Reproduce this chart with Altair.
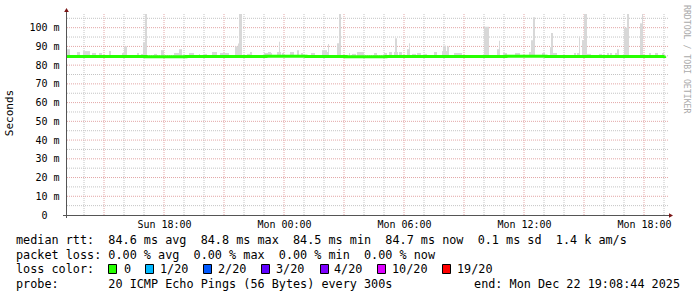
import altair as alt
import pandas as pd

# ---------------- data (minutes after Sun 2025-12-21 13:06 UTC, values in ms) ----------------
smoke_from = [3, 33, 51, 78, 99, 129, 168, 174, 213, 225, 231, 237, 264, 285, 324, 339,
              369, 399, 414, 438, 462, 507, 516, 519, 543, 552, 594, 606, 633, 639, 648, 672,
              693, 705, 735, 768, 774, 786, 813, 819, 849, 858, 873, 924, 954, 969, 984, 987,
              999, 1023, 1029, 1038, 1053, 1074, 1104, 1128, 1131, 1143, 1164, 1254, 1293, 1299,
              1311, 1347, 1389, 1395, 1401, 1428, 1452, 1455, 1461, 1524, 1533, 1539, 1548, 1554,
              1563, 1599, 1623, 1632, 1647, 1653, 1674, 1683, 1722, 1728, 1749, 1767, 1788]
smoke_to = [12, 42, 72, 90, 108, 135, 174, 183, 219, 231, 237, 243, 273, 294, 348, 348,
            384, 402, 423, 453, 489, 516, 519, 528, 552, 558, 618, 615, 645, 642, 654, 684,
            699, 711, 747, 783, 786, 789, 819, 825, 852, 870, 894, 933, 963, 978, 996, 993,
            1008, 1032, 1032, 1050, 1065, 1083, 1113, 1149, 1140, 1149, 1188, 1269, 1302, 1302,
            1323, 1362, 1398, 1404, 1407, 1437, 1461, 1461, 1473, 1530, 1539, 1542, 1557, 1563,
            1575, 1608, 1629, 1638, 1659, 1659, 1689, 1689, 1731, 1731, 1755, 1776, 1794]
smoke_top = [88.5, 87.0, 87.5, 86.5, 86.5, 87.5, 86.5, 90.0, 86.5, 86.0, 92.0, 108.0, 86.0, 88.0, 86.5, 88.5,
             86.5, 86.0, 86.0, 87.0, 86.5, 90.0, 91.5, 108.0, 86.0, 87.0, 86.5, 87.0, 87.0, 92.5, 86.5, 87.0,
             88.0, 86.5, 86.5, 88.0, 87.0, 91.3, 91.7, 108.0, 86.5, 86.0, 87.0, 86.5, 86.5, 87.0, 87.0, 94.3,
             87.0, 88.5, 91.7, 86.0, 86.5, 86.0, 87.0, 87.5, 90.4, 90.0, 86.5, 100.5, 88.5, 93.0,
             86.5, 86.5, 87.0, 93.3, 105.6, 86.5, 89.6, 97.2, 86.5, 86.5, 86.5, 95.2, 93.4, 108.0,
             86.0, 86.0, 86.5, 86.5, 86.5, 88.5, 100.0, 108.0, 102.3, 108.0, 86.5, 86.5, 86.5]
smoke_floor = 84.3

median_t = [0, 120, 240, 360, 480, 600, 720, 840, 960, 1080, 1200, 1320, 1440, 1560, 1680, 1796]
median_ms = [84.6, 84.6, 84.5, 84.6, 84.6, 84.7, 84.6, 84.5, 84.6, 84.6, 84.6, 84.7, 84.6, 84.6, 84.6, 84.7]

x_label_minutes = [294, 654, 1014, 1374, 1734]
minor_v_minutes = [54, 174, 234, 354, 414, 534, 594, 714, 774, 894, 954, 1074, 1134, 1254,
                   1314, 1434, 1494, 1614, 1674, 1794]
major_v_minutes = [114, 294, 474, 654, 834, 1014, 1194, 1374, 1554, 1734]
y_ticks = [0, 10, 20, 30, 40, 50, 60, 70, 80, 90, 100]
minor_h = [5, 15, 25, 35, 45, 55, 65, 75, 85, 95, 105]
major_h = [10, 20, 30, 40, 50, 60, 70, 80, 90, 100]

legend_lines = [
    "median rtt:  84.6 ms avg  84.8 ms max  84.5 ms min  84.7 ms now  0.1 ms sd  1.4 k am/s",
    "packet loss: 0.00 % avg  0.00 % max  0.00 % min  0.00 % now",
    "loss color:",
    "probe:       20 ICMP Echo Pings (56 Bytes) every 300s",
]
end_text = "end: Mon Dec 22 19:08:44 2025"
loss_labels = ["0", "1/20", "2/20", "3/20", "4/20", "10/20", "19/20"]
loss_colors = ["#26ff00", "#00b8ff", "#0059ff", "#5e00ff", "#7e00ff", "#dd00ff", "#ff0000"]

T0_MS = 1766322360000
XMAX = 1806
YMAX = 107.3
W, H = 602, 201
MONO = "DejaVu Sans Mono"

xs = alt.Scale(domain=[0, XMAX], nice=False, zero=False)
ys = alt.Scale(domain=[0, YMAX], nice=False, zero=False)

smoke = pd.DataFrame({"a": smoke_from, "b": smoke_to, "top": smoke_top,
                      "lo": [smoke_floor] * len(smoke_from)})
med = pd.DataFrame({"t": median_t, "v": median_ms})

x_axis = alt.Axis(values=x_label_minutes,
                  labelExpr=f"utcFormat(datum.value*60000 + {T0_MS}, '%a %H:%M')",
                  domain=False, ticks=False, grid=False, title=None,
                  labelFont=MONO, labelFontSize=10, labelColor="#000000", labelPadding=4,
                  labelFlush=False, labelOverlap=False)
y_axis = alt.Axis(values=y_ticks,
                  labelExpr="datum.value == 0 ? '0' : datum.value + ' m'",
                  domain=False, ticks=False, grid=False, title=None,
                  labelFont=MONO, labelFontSize=10, labelColor="#000000",
                  labelPadding={"condition": {"test": "datum.value == 0", "value": 19}, "value": 7},
                  labelFlush=False, labelOverlap=False)

minor_v = alt.Chart(pd.DataFrame({"t": minor_v_minutes})).mark_rule(
    color="#c4c4c4", strokeDash=[1, 1], strokeWidth=1).encode(
    x=alt.X("t:Q", scale=xs, axis=x_axis))
major_v = alt.Chart(pd.DataFrame({"t": major_v_minutes})).mark_rule(
    color="#e3a6a6", strokeDash=[1, 1], strokeWidth=1).encode(
    x=alt.X("t:Q", scale=xs, axis=x_axis))
minor_hl = alt.Chart(pd.DataFrame({"v": minor_h})).mark_rule(
    color="#c4c4c4", strokeDash=[1, 1], strokeWidth=1).encode(
    y=alt.Y("v:Q", scale=ys, axis=y_axis))
major_hl = alt.Chart(pd.DataFrame({"v": major_h})).mark_rule(
    color="#e3a6a6", strokeDash=[1, 1], strokeWidth=1).encode(
    y=alt.Y("v:Q", scale=ys, axis=y_axis))

smoke_layer = alt.Chart(smoke).mark_rect(color="#d8d8d8", clip=True).encode(
    x=alt.X("a:Q", scale=xs, axis=x_axis), x2="b:Q",
    y=alt.Y("lo:Q", scale=ys, axis=y_axis), y2="top:Q")

median_layer = alt.Chart(med).mark_line(color="#26ff00", strokeWidth=3,
                                        interpolate="step-after").encode(
    x=alt.X("t:Q", scale=xs, axis=x_axis), y=alt.Y("v:Q", scale=ys, axis=y_axis))

one = pd.DataFrame({"k": [0]})
NBSP = "\u00a0"

def txt(s, x, y, size=11.8, align="left", angle=0, color="#000000", baseline="middle"):
    kw = dict(font=MONO, fontSize=size, align=align, baseline=baseline, color=color)
    if angle:
        kw["angle"] = angle
    return alt.Chart(one).mark_text(**kw).encode(
        x=alt.value(x), y=alt.value(y), text=alt.value(s.replace(" ", NBSP)))

axis_color = "#555555"
axes = [
    alt.Chart(one).mark_rule(color=axis_color, strokeWidth=1).encode(
        x=alt.value(-3), x2=alt.value(604), y=alt.value(201.5)),
    alt.Chart(one).mark_rule(color=axis_color, strokeWidth=1).encode(
        x=alt.value(0.5), y=alt.value(-3), y2=alt.value(204)),
    alt.Chart(one).mark_point(shape="triangle-up", filled=True, size=22, color="#7a1515",
                              opacity=1).encode(x=alt.value(0.5), y=alt.value(-4)),
    alt.Chart(one).mark_point(shape="triangle-right", filled=True, size=22, color="#7a1515",
                              opacity=1).encode(x=alt.value(605), y=alt.value(201.5)),
]

texts = [
    txt("Seconds", -56, 99, size=11, align="center", angle=270),
    txt("RRDTOOL / TOBI OETIKER", 620, -9, size=8.2, align="left", angle=90, color="#aaaaaa"),
    txt(legend_lines[0], -50, 226),
    txt(legend_lines[1], -50, 241),
    txt(legend_lines[2], -50, 255),
    txt(legend_lines[3], -50, 270),
    txt(end_text, 614, 270, align="right"),
]

box_left = [108, 145, 203, 261, 320, 377, 442]
label_left = [124, 160, 218, 276, 334, 392, 457]
boxes = []
for lab, col, bx, lx in zip(loss_labels, loss_colors, box_left, label_left):
    boxes.append(alt.Chart(one).mark_rect(color=col, stroke="#000000", strokeWidth=1).encode(
        x=alt.value(bx - 66 + 0.5), x2=alt.value(bx - 66 + 8.5),
        y=alt.value(250.5), y2=alt.value(259.5)))
    texts.append(txt(lab, lx - 66, 255))

chart = alt.layer(minor_v, major_v, minor_hl, major_hl, smoke_layer, median_layer,
                  *axes, *boxes, *texts).properties(
    width=W, height=H,
    autosize=alt.AutoSizeParams(type="none"),
    padding={"left": 66, "top": 14, "right": 29, "bottom": 82},
    background="#ffffff",
).configure_view(strokeWidth=0)

chart.save("out.html", embed_options={"renderer": "svg", "actions": False})
